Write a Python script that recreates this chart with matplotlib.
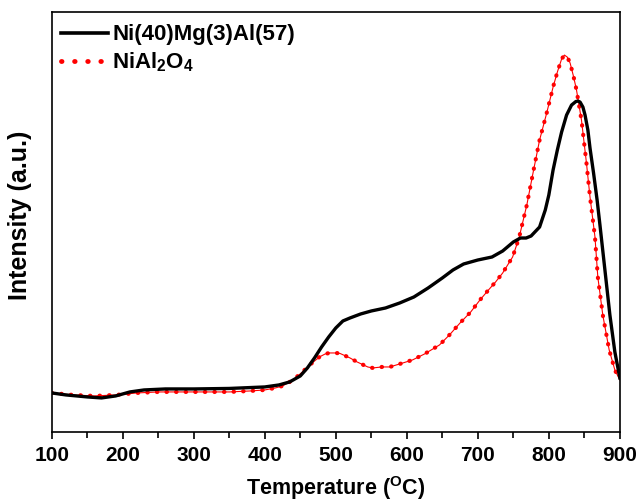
import matplotlib.pyplot as plt
import numpy as np
from matplotlib.lines import Line2D
from matplotlib.ticker import MultipleLocator

plt.rcParams["font.family"] = "Liberation Sans"
plt.rcParams["font.weight"] = "bold"
plt.rcParams["mathtext.fontset"] = "custom"
plt.rcParams["mathtext.rm"] = "Liberation Sans:bold"
plt.rcParams["mathtext.bf"] = "Liberation Sans:bold"

# H2-TPR profiles (arbitrary intensity units)
temp_nimgal = [100, 120, 150, 170, 190, 210, 230, 260, 300, 350, 400, 420, 435,
               450, 460, 470, 480, 490, 500, 510, 520, 535, 550, 570, 590, 610,
               630, 650, 665, 680, 700, 720, 735, 750, 760, 768, 775, 787, 795,
               800, 806, 812, 818, 825, 832, 838, 841, 844, 848, 851, 855, 858,
               863, 868, 872, 879, 886, 893, 900]
int_nimgal = [39, 37, 35, 34, 36, 40, 42, 43, 43, 43.5, 45, 47, 50,
              56, 64, 74, 85, 95, 104, 111, 114, 118, 121, 124, 129, 135,
              144, 154, 162, 168, 172, 175, 181, 190, 194, 194, 196, 205, 222,
              237, 262, 282, 300, 317, 327, 330.5, 331, 330, 325, 317, 302, 284,
              259, 232, 207, 162, 117, 80, 54]

temp_nial2o4 = [100, 130, 160, 190, 220, 250, 300, 350, 380, 400, 415, 425, 440,
                453, 465, 477, 485, 491, 500, 506, 520, 530, 545, 552, 565, 576,
                590, 608, 625, 646, 660, 675, 690, 703, 715, 725, 735, 749, 758,
                769, 778, 787, 797, 806, 812, 818, 822, 826, 830, 835, 839, 846,
                853, 858, 865, 869, 876, 885, 893, 900]
int_nial2o4 = [39, 37, 36, 37, 39, 40, 40, 40, 41, 42, 44, 46, 52,
               60, 68, 75, 78, 79, 79, 78.5, 74, 70, 65, 64, 65, 65,
               68, 72, 78, 87, 97, 109, 120, 132, 142, 150, 159, 175, 194,
               227, 260, 292, 319, 345, 360, 373, 377, 375, 369, 355, 342, 312,
               269, 235, 195, 155, 117, 82, 62, 52]

fig = plt.figure(figsize=(6.39, 5.04), dpi=100)
ax = fig.add_axes([0.081, 0.143, 0.889, 0.833])

ax.plot(temp_nimgal, int_nimgal, color="black", lw=2.4, zorder=3,
        solid_joinstyle="round")
ax.plot(temp_nial2o4, int_nial2o4, color="red", lw=0.8, zorder=2)
ax.plot(temp_nial2o4, int_nial2o4, color="red", lw=3, ls=(0, (0.1, 2.2)),
        dash_capstyle="round", zorder=2)

ax.set_xlim(100, 900)
ax.set_ylim(0, 420)
ax.xaxis.set_major_locator(MultipleLocator(100))
ax.xaxis.set_minor_locator(MultipleLocator(50))
ax.tick_params(axis="x", which="major", direction="out", length=5, width=1.2,
               labelsize=15, pad=5)
ax.tick_params(axis="x", which="minor", direction="out", length=4, width=1.2)
ax.set_yticks([])
for s in ax.spines.values():
    s.set_linewidth(1.2)

ax.set_xlabel(r"Temperature ($^\mathregular{O}$C)", fontsize=15.5,
              fontweight="bold", labelpad=7)
ax.set_ylabel("Intensity (a.u.)", fontsize=18, fontweight="bold")
ax.yaxis.set_label_coords(-0.035, 0.515)

handles = [Line2D([], [], color="black", lw=2.6),
           Line2D([], [], color="red", lw=3.5, ls=(0, (0.1, 2.6)),
                  dash_capstyle="round")]
ax.legend(handles, ["Ni(40)Mg(3)Al(57)", r"NiAl$_\mathregular{2}$O$_\mathregular{4}$"],
          loc="upper left", frameon=False, fontsize=16, handlelength=2.1,
          handletextpad=0.2, borderaxespad=0.15, labelspacing=0.25,
          bbox_to_anchor=(-0.005, 1.0))

fig.savefig("out.png", dpi=100)
